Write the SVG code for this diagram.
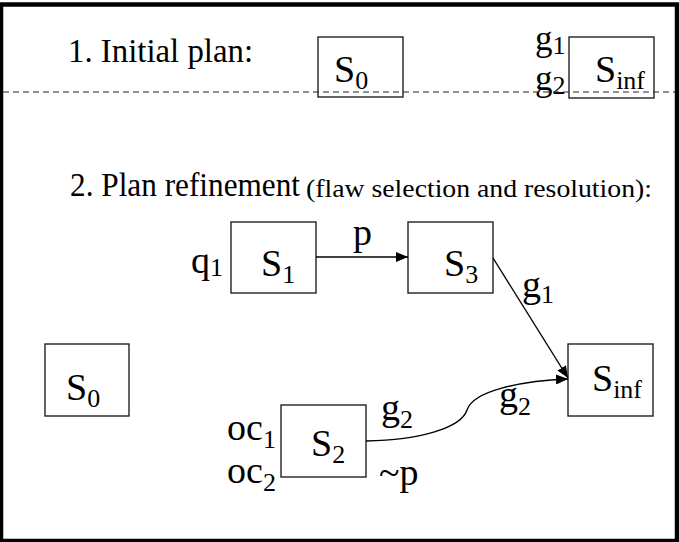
<svg xmlns="http://www.w3.org/2000/svg" width="679" height="542" viewBox="0 0 679 542">
  <style>
    .frame { fill: none; stroke: #000; stroke-width: 4.5; }
    .box { fill: none; stroke: #222; stroke-width: 1.4; }
    .t { font-family: "Liberation Serif", "Times New Roman", serif; fill: #000; }
    .big { font-size: 34px; }
    .small { font-size: 26px; }
    .lbl { font-size: 38px; }
    .lbl-s { font-size: 35px; }
    .sub { font-size: 26px; }
    .edge { fill: none; stroke: #000; stroke-width: 1.4; }
    .sep { stroke: #222; stroke-width: 1.2; stroke-dasharray: 6 4; }
  </style>
  <defs>
    <marker id="arrow" viewBox="0 0 12 10" refX="12" refY="5" markerWidth="12" markerHeight="10" markerUnits="userSpaceOnUse" orient="auto">
      <path d="M0,0 L12,5 L0,10 Z" fill="#000"/>
    </marker>
  </defs>

  <rect fill="#fff" x="0" y="0" width="679" height="542"/>
  <rect class="frame" x="1" y="4.5" width="676" height="536.5"/>

  <!-- section 1: initial plan -->
  <text class="t big" x="68" y="62" textLength="185" lengthAdjust="spacingAndGlyphs">1. Initial plan:</text>

  <g id="init-s0">
    <rect class="box" x="318" y="37" width="85" height="60"/>
    <text class="t lbl" x="334" y="82">S<tspan class="sub" dy="7">0</tspan></text>
  </g>

  <g id="init-sinf">
    <rect class="box" x="569" y="37" width="85" height="61"/>
    <text class="t lbl" x="595" y="82">S<tspan class="sub" dy="7">inf</tspan></text>
    <text class="t lbl-s" x="535" y="50">g<tspan class="sub" dy="4">1</tspan></text>
    <text class="t lbl-s" x="535" y="90">g<tspan class="sub" dy="4">2</tspan></text>
  </g>

  <line class="sep" x1="3" y1="92" x2="675" y2="92"/>

  <!-- section 2: plan refinement -->
  <text class="t big" x="70" y="196" textLength="230" lengthAdjust="spacingAndGlyphs">2. Plan refinement</text>
  <text class="t small" x="306" y="197" textLength="346" lengthAdjust="spacingAndGlyphs">(flaw selection and resolution):</text>

  <g id="s1">
    <rect class="box" x="231" y="222" width="85" height="71"/>
    <text class="t lbl" x="261" y="276">S<tspan class="sub" dy="7">1</tspan></text>
    <text class="t lbl" x="191" y="273">q<tspan class="sub" dy="3">1</tspan></text>
  </g>

  <g id="s3">
    <rect class="box" x="408" y="222" width="85" height="71"/>
    <text class="t lbl" x="444" y="276">S<tspan class="sub" dy="7">3</tspan></text>
  </g>

  <g id="s0">
    <rect class="box" x="45" y="344" width="84" height="72"/>
    <text class="t lbl" x="66" y="400">S<tspan class="sub" dy="7">0</tspan></text>
  </g>

  <g id="sinf">
    <rect class="box" x="568" y="344" width="85" height="72"/>
    <text class="t lbl" x="592" y="391">S<tspan class="sub" dy="7">inf</tspan></text>
  </g>

  <g id="s2">
    <rect class="box" x="281" y="405" width="85" height="72"/>
    <text class="t lbl" x="311" y="456">S<tspan class="sub" dy="7">2</tspan></text>
    <text class="t lbl" x="227" y="440">oc<tspan class="sub" dy="8">1</tspan></text>
    <text class="t lbl" x="227" y="483">oc<tspan class="sub" dy="8">2</tspan></text>
    <text class="t lbl" x="379" y="485">~p</text>
  </g>

  <g id="connectors">
    <line class="edge" x1="316" y1="257" x2="408" y2="257" marker-end="url(#arrow)"/>
    <text class="t lbl" x="353" y="245">p</text>

    <line class="edge" x1="493" y1="258" x2="568" y2="378" marker-end="url(#arrow)"/>
    <text class="t lbl" x="522" y="297">g<tspan class="sub" dy="6">1</tspan></text>

    <path class="edge" d="M366,441 C420,440 461,428 467,410 C473,391 520,381 568,379" marker-end="url(#arrow)"/>
    <text class="t lbl" x="381" y="420">g<tspan class="sub" dy="8">2</tspan></text>
    <text class="t lbl" x="499" y="407">g<tspan class="sub" dy="8">2</tspan></text>
  </g>
</svg>
